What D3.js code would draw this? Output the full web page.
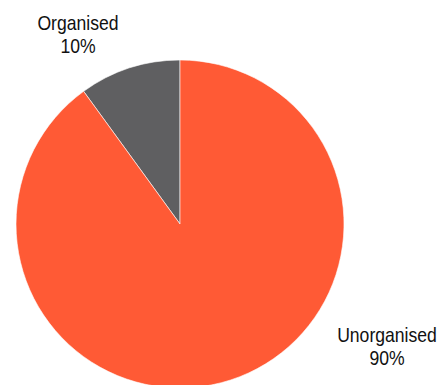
<!DOCTYPE html>
<html>
<head>
<meta charset="utf-8">
<script src="https://cdn.jsdelivr.net/npm/d3@7"></script>
<style>
  html, body { margin: 0; padding: 0; background: #fff; }
  svg { display: block; }
  text { font-family: "Liberation Sans Narrow", "Arial Narrow", "Liberation Sans", Arial, sans-serif; fill: #111; }
</style>
</head>
<body>
<svg id="chart" width="445" height="385"></svg>
<script>
// Share of the workforce by sector
const categories = ["Organised", "Unorganised"];
const shares = [10, 90];
const colors = ["#5F5F61", "#FF5A35"];

const width = 445, height = 385;
const cx = 180, cy = 224, radius = 164;

const svg = d3.select("#chart");
const g = svg.append("g").attr("transform", `translate(${cx},${cy})`);

const data = categories.map((c, i) => ({ name: c, value: shares[i], color: colors[i] }));

// Organised slice starts at 12 o'clock and runs counter-clockwise
const pie = d3.pie()
  .value(d => d.value)
  .sort(null)
  .startAngle(0)
  .endAngle(-2 * Math.PI);

const arc = d3.arc().innerRadius(0).outerRadius(radius);

const arcs = pie(data);

g.selectAll("path")
  .data(arcs)
  .join("path")
  .attr("d", arc)
  .attr("fill", d => d.data.color)
  .attr("stroke", "#ffffff")
  .attr("stroke-width", 0.6);

// Outside labels: name over percentage, condensed horizontally
const labelPos = [
  { x: 78, y: 29.5 },
  { x: 387, y: 341.5 }
];
const squeeze = 0.88;

arcs.forEach((a, i) => {
  const lg = svg.append("g")
    .attr("transform", `translate(${labelPos[i].x},${labelPos[i].y}) scale(${squeeze},1)`);
  const t = lg.append("text")
    .attr("text-anchor", "middle")
    .attr("font-size", 20);
  t.append("tspan")
    .attr("x", 0)
    .attr("y", 0)
    .text(a.data.name);
  t.append("tspan")
    .attr("x", 0)
    .attr("dy", 24)
    .text(a.data.value + "%");
});
</script>
</body>
</html>
